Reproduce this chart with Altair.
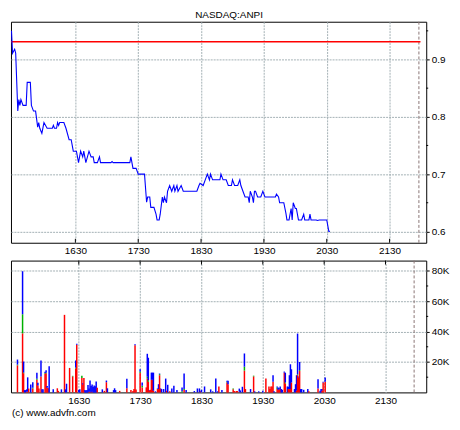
import altair as alt
import pandas as pd

FONT = "Liberation Sans"

# ---------------- data (time = minutes after midnight) ----------------
price_time = [929, 930, 932, 933, 935, 936, 937, 938, 940, 943, 944, 947, 948, 950, 952, 954, 955, 956, 958, 960,
              963, 968, 969, 970, 972, 973, 974, 975, 979, 981, 984, 986, 988, 991, 993, 995, 997, 998, 1000, 1003,
              1005, 1007, 1008, 1011, 1013, 1014, 1024, 1025, 1026, 1042, 1043, 1045, 1048, 1050, 1056, 1058, 1059, 1061, 1062, 1065,
              1067, 1068, 1070, 1071, 1073, 1074, 1075, 1077, 1078, 1080, 1082, 1084, 1085, 1087, 1088, 1091, 1093, 1106, 1108, 1109,
              1112, 1114, 1116, 1118, 1119, 1121, 1128, 1129, 1131, 1134, 1136, 1139, 1140, 1142, 1145, 1147, 1148, 1150, 1152, 1155,
              1156, 1157, 1159, 1160, 1161, 1162, 1164, 1167, 1169, 1171, 1181, 1182, 1184, 1185, 1189, 1191, 1192, 1194, 1196, 1197,
              1198, 1200, 1201, 1203, 1206, 1208, 1209, 1213, 1214, 1215, 1220, 1221, 1223, 1230, 1232, 1233]
price_value = [0.95, 0.911, 0.918, 0.911, 0.81, 0.83, 0.82, 0.83, 0.82, 0.82, 0.86, 0.86, 0.82, 0.81, 0.81, 0.782, 0.79, 0.78, 0.771, 0.79,
               0.78, 0.78, 0.785, 0.78, 0.78, 0.79, 0.785, 0.79, 0.79, 0.78, 0.76, 0.76, 0.74, 0.74, 0.72, 0.74, 0.73, 0.74, 0.72, 0.74,
               0.73, 0.73, 0.72, 0.72, 0.73, 0.72, 0.72, 0.722, 0.72, 0.72, 0.73, 0.71, 0.71, 0.70, 0.70, 0.651, 0.66, 0.66, 0.642, 0.642,
               0.63, 0.62, 0.62, 0.63, 0.66, 0.65, 0.66, 0.65, 0.67, 0.68, 0.67, 0.68, 0.67, 0.68, 0.67, 0.68, 0.67, 0.67, 0.68, 0.684,
               0.68, 0.69, 0.70, 0.69, 0.70, 0.69, 0.69, 0.70, 0.69, 0.69, 0.68, 0.68, 0.69, 0.68, 0.68, 0.69, 0.68, 0.67, 0.66, 0.66,
               0.65, 0.67, 0.66, 0.65, 0.67, 0.67, 0.66, 0.66, 0.67, 0.66, 0.66, 0.665, 0.66, 0.65, 0.65, 0.632, 0.62, 0.62, 0.64, 0.62,
               0.65, 0.64, 0.64, 0.62, 0.62, 0.63, 0.62, 0.62, 0.63, 0.62, 0.62, 0.619, 0.62, 0.62, 0.60, 0.60]

prev_close = 0.931
close_time = 1318

vol_time = [930, 935, 936, 937, 938, 939, 940, 941, 943, 945, 949, 950, 951, 953, 954, 955, 957, 958, 959, 960,
            961, 965, 969, 970, 973, 976, 977, 978, 981, 984, 987, 988, 990, 991, 993, 994, 995, 996, 997, 998,
            999, 1000, 1001, 1002, 1003, 1004, 1005, 1006, 1007, 1008, 1013, 1015, 1017, 1018, 1024, 1025, 1026, 1030, 1037, 1041,
            1043, 1044, 1045, 1046, 1050, 1052, 1056, 1057, 1058, 1059, 1060, 1061, 1062, 1063, 1065, 1067, 1068, 1069, 1070, 1071,
            1073, 1075, 1076, 1077, 1079, 1081, 1083, 1086, 1091, 1093, 1095, 1103, 1106, 1108, 1109, 1110, 1113, 1119, 1121, 1124,
            1126, 1127, 1130, 1135, 1136, 1141, 1142, 1144, 1145, 1147, 1148, 1150, 1152, 1153, 1158, 1161, 1162, 1166, 1170, 1173,
            1176, 1177, 1178, 1179, 1180, 1181, 1184, 1185, 1186, 1187, 1188, 1189, 1191, 1192, 1194, 1195, 1196, 1197, 1198, 1201,
            1202, 1203, 1204, 1205, 1206, 1207, 1208, 1210, 1214, 1215, 1224, 1226, 1227, 1228, 1229, 1231]
vol_red = [17.8, 38.8, 12.6, 0, 0, 0.5, 0.5, 2.5, 0, 2.5, 8.4, 4.6, 2.5, 10.5, 0, 0, 12.2, 12.6, 3.1, 2.7,
           0, 0, 2.7, 1.0, 0, 51.0, 0, 0, 16.1, 10.5, 15.7, 31.4, 0, 0, 9.4, 5.2, 9.4, 0, 0, 0,
           0, 0.5, 0.5, 0, 0.5, 0, 0, 0, 0, 3.1, 0, 1.0, 6.7, 0, 0, 0, 0, 1.0, 2.7, 1.5,
           1.0, 2.3, 31.0, 1.9, 13.0, 3.3, 3.3, 9.1, 7.0, 1.1, 1.7, 8.3, 8.3, 1.1, 0, 2.2, 2.2, 11.3, 2.2, 0,
           0, 0, 1.1, 0, 0.7, 0, 0, 0, 0, 1.5, 0, 0, 0, 0, 0.7, 0, 0, 0, 0, 0,
           0, 3.9, 0, 6.5, 5.4, 2.0, 0.9, 0.9, 0.9, 0.5, 0, 0, 14.3, 2.2, 0, 10.5, 0, 0, 0, 9.1,
           3.9, 2.2, 3.9, 3.9, 7.0, 0, 2.2, 1.7, 1.7, 2.2, 0, 0, 13.0, 5.9, 0, 2.2, 2.2, 2.2, 6.5, 0,
           0, 1.1, 11.3, 9.8, 14.1, 0, 0, 0, 0, 0.7, 2.6, 0, 0, 1.1, 6.5, 7.0]
vol_green = [0.5, 12.6, 0.5, 0, 0, 0, 0, 0, 0, 0.6, 0.6, 0, 0, 0, 0, 0, 0.5, 0.3, 0, 0,
             0, 0, 0, 0, 0, 0, 0, 0, 0, 0.4, 0.6, 0, 0, 0, 1.5, 0, 0, 0, 0, 0,
             0, 0, 0, 0, 0, 0, 0, 0, 0, 0, 0, 0, 0, 0, 0, 0, 0, 0, 0, 0,
             0, 0, 0, 0, 0.7, 1.0, 0, 1.3, 1.0, 0, 0, 0, 0, 0, 0, 0, 0, 0.7, 0, 0,
             0, 0, 0, 0, 0, 0, 0, 0, 0.7, 0.7, 0, 0, 0, 0, 0, 0, 0, 0, 0, 0,
             0, 0, 0, 0.5, 0, 0.5, 0, 0, 0, 0, 0, 0, 2.6, 0, 0, 0.5, 0, 0, 0, 0,
             0, 0, 0, 0, 0, 0, 1.1, 0, 0, 0, 0, 0, 0, 0.6, 0, 0, 0, 0, 0, 0,
             0, 0, 0.6, 0, 0.6, 0, 0, 0, 0, 0, 0, 0, 0, 0, 0, 0]
vol_blue = [3.3, 28.3, 7.2, 1.5, 1.5, 1.5, 9.4, 0, 5.2, 3.6, 4.0, 1.7, 0, 10.5, 2.0, 2.0, 0.9, 1.7, 1.1, 0,
            17.2, 2.0, 0, 0, 2.0, 0, 2.0, 5.7, 0, 0, 4.7, 0.6, 1.5, 2.0, 0, 0.8, 0, 1.5, 1.2, 1.5,
            4.8, 2.0, 7.3, 4.2, 4.7, 3.6, 4.6, 4.0, 7.1, 0, 2.0, 0, 1.1, 2.7, 1.5, 2.7, 1.5, 0, 6.3, 0,
            0, 0, 0.7, 0, 1.5, 2.2, 0, 15.0, 14.8, 0.4, 0, 4.7, 4.7, 11.9, 0.7, 0.4, 3.2, 0.4, 0.4, 2.2,
            2.2, 9.1, 0, 5.0, 0, 2.6, 4.3, 1.5, 2.6, 10.2, 1.5, 0.9, 2.6, 2.6, 0.3, 1.7, 3.9, 2.0, 0.7, 9.1,
            0.7, 0, 1.5, 0.6, 2.2, 0, 0, 0, 0, 2.0, 1.3, 3.7, 8.7, 0, 2.2, 0, 0.7, 0.7, 1.1, 0,
            0, 0, 0, 0, 4.3, 0.7, 0.6, 1.6, 1.0, 1.7, 2.2, 1.7, 0.7, 6.5, 3.9, 1.5, 9.1, 16.3, 8.7, 2.2,
            5.4, 10.2, 26.8, 0.6, 5.3, 2.2, 2.2, 1.7, 2.2, 0, 6.1, 1.1, 2.2, 1.1, 0.5, 2.8]

tick_times = [990, 1050, 1110, 1170, 1230, 1290]
price_ticks = [0.6, 0.7, 0.8, 0.9]
price_minor = [0.65, 0.75, 0.85, 0.95]
vol_ticks = [20, 40, 60, 80]
vol_minor = [10, 30, 50, 70]

# ---------------- tables ----------------
n = min(len(price_time), len(price_value))
price_df = pd.DataFrame({"t": price_time[:n], "p": price_value[:n]})

rows = []
m = min(len(vol_time), len(vol_red), len(vol_green), len(vol_blue))
for i in range(m):
    for name, arr, o in (("red", vol_red, 0), ("green", vol_green, 1), ("blue", vol_blue, 2)):
        if arr[i] > 0:
            rows.append({"t": vol_time[i], "v": arr[i], "part": name, "ord": o})
vol_df = pd.DataFrame(rows)

ticks_df = pd.DataFrame({"t": tick_times})
close_df = pd.DataFrame({"t": [close_time]})
prev_df = pd.DataFrame({"t": [928.5], "t1": [close_time + 1.5], "p": [prev_close]})
pminor_df = pd.DataFrame({"p": price_minor})
vminor_df = pd.DataFrame({"v": vol_minor})

# ---------------- layout ----------------
W, H1, H2 = 419, 223, 133
GRID = "#a3b0b4"
xscale = alt.Scale(domain=[928.5, 1325], nice=False, zero=False)
pscale = alt.Scale(domain=[0.5802, 0.9659], nice=False, zero=False)
vscale = alt.Scale(domain=[0, 86.7], nice=False, zero=False)

XAX = alt.Axis(values=tick_times, labelExpr="'' + (floor(datum.value/60)*100 + datum.value%60)",
               grid=True, gridColor=GRID, gridDash=[2, 1], gridWidth=1, ticks=False, domain=False,
               labelFont=FONT, labelFontSize=10, labelColor="#000", labelPadding=3, title=None,
               labelOverlap=False, labelFlush=False)
PAX = alt.Axis(orient="right", values=price_ticks, labelExpr="format(datum.value, '.1f')",
               grid=True, gridColor=GRID, gridDash=[2, 1], tickSize=3,
               tickColor="#000", domain=False, labelFont=FONT, labelFontSize=10,
               labelColor="#000", labelPadding=2, title=None)
VAX = alt.Axis(orient="right", values=vol_ticks, labelExpr="datum.value + 'K'",
               grid=True, gridColor=GRID, gridDash=[2, 1], tickSize=3, tickColor="#000",
               domain=False, labelFont=FONT, labelFontSize=10, labelColor="#000",
               labelPadding=2, title=None)

line = alt.Chart(price_df).mark_line(color="#0000ff", strokeWidth=1.1).encode(
    x=alt.X("t:Q", scale=xscale, axis=XAX),
    y=alt.Y("p:Q", scale=pscale, axis=PAX),
)
prev_rule = alt.Chart(prev_df).mark_rule(color="#ff0000", strokeWidth=1.4).encode(
    x=alt.X("t:Q", scale=xscale, axis=XAX), x2="t1:Q",
    y=alt.Y("p:Q", scale=pscale, axis=PAX),
)
close_rule_top = alt.Chart(close_df).mark_rule(color="#8a7474", strokeDash=[3, 2]).encode(
    x=alt.X("t:Q", scale=xscale, axis=XAX))
ticks_top = alt.Chart(ticks_df).mark_rule(color="#000").encode(
    x=alt.X("t:Q", scale=xscale, axis=XAX), y=alt.value(H1 - 4), y2=alt.value(H1))
minor_top = alt.Chart(pminor_df).mark_rule(color="#000").encode(
    y=alt.Y("p:Q", scale=pscale, axis=PAX), x=alt.value(W), x2=alt.value(W + 2))

top = alt.layer(close_rule_top, prev_rule, line, ticks_top, minor_top).properties(width=W, height=H1)

bars = alt.Chart(vol_df).mark_bar(size=1.5).encode(
    x=alt.X("t:Q", scale=xscale, axis=XAX),
    y=alt.Y("v:Q", stack="zero", scale=vscale, axis=VAX),
    color=alt.Color("part:N", scale=alt.Scale(domain=["red", "green", "blue"],
                                              range=["#ff0000", "#00b000", "#0000ff"]), legend=None),
    order=alt.Order("ord:Q", sort="ascending"),
)
close_rule_bot = alt.Chart(close_df).mark_rule(color="#8a7474", strokeDash=[3, 2]).encode(
    x=alt.X("t:Q", scale=xscale, axis=XAX))
ticks_bot = alt.Chart(ticks_df).mark_rule(color="#000").encode(
    x=alt.X("t:Q", scale=xscale, axis=XAX), y=alt.value(0), y2=alt.value(4))
minor_bot = alt.Chart(vminor_df).mark_rule(color="#000").encode(
    y=alt.Y("v:Q", scale=vscale, axis=VAX), x=alt.value(W), x2=alt.value(W + 2))

bottom = alt.layer(close_rule_bot, bars, ticks_bot, minor_bot).properties(
    width=W, height=H2,
    title=alt.Title("(c) www.advfn.com", orient="bottom", anchor="start", frame="group",
                    fontSize=10, fontWeight="normal", font=FONT, color="#000", offset=3, dx=1),
)

chart = alt.vconcat(top, bottom, spacing=3).properties(
    title=alt.Title("NASDAQ:ANPI", fontSize=10, fontWeight="normal", font=FONT, color="#000",
                    anchor="middle", offset=1),
    padding={"left": 0, "top": 0, "right": 2, "bottom": 0},
).configure(font=FONT).configure_view(stroke="#000", strokeWidth=1)

chart.save("out.html", embed_options={"renderer": "svg", "actions": False})
